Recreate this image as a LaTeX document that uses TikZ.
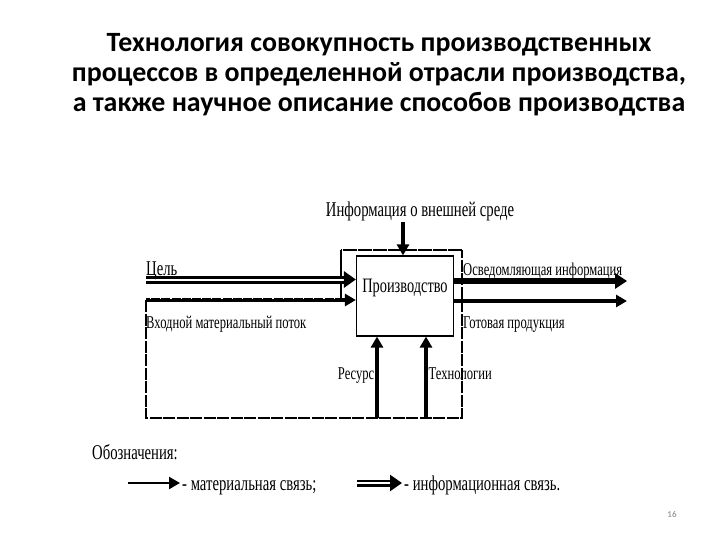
\documentclass[tikz,border=0pt]{standalone}
\usepackage{fontspec}
\setmainfont{Carlito}
\newfontfamily\cond[FakeStretch=0.70]{Liberation Serif}
\usetikzlibrary{arrows.meta}
\begin{document}
\begin{tikzpicture}[x=1pt,y=-1pt,
 lbl/.style={font=\cond\fontsize{18}{18}\selectfont, inner sep=0pt},
 biglbl/.style={font=\cond\fontsize{21}{21}\selectfont, inner sep=0pt},
 mat/.style={line width=3.4pt, -{Triangle[length=11pt,width=12pt]}},
 inf/.style={line width=3pt, double=white, double distance=2pt, -{Triangle[length=12pt,width=16pt]}},
 loopline/.style={line width=1.5pt, dash pattern=on 12pt off 1.5pt},
 prodbox/.style={draw, line width=1.2pt, minimum width=97pt, minimum height=80pt}]
\useasboundingbox (0,0) rectangle (720,540);
\node[font=\bfseries\fontsize{27.9}{30}\selectfont, align=center] (title) at (379,75) {Технология совокупность производственных\\процессов в определенной отрасли производства,\\а также научное описание способов производства};

\node[prodbox] (prod) at (405,296) {};
\node[font=\cond\fontsize{20.5}{20.5}\selectfont, inner sep=0pt] (prodlbl) at ([yshift=8pt]prod.center) {Производство};

\coordinate (c0) at (146,279.5);
\coordinate (m0) at (146,300);
\coordinate (o1) at (627,281);
\coordinate (o2) at (627,301);
\coordinate (t0) at (403,222);
\coordinate (r0) at (377,418);
\coordinate (k0) at (426,418);
\coordinate (lb) at (146,418);
\coordinate (rb) at (462,418);
\coordinate (rt) at (462,250);
\coordinate (lt) at (341,250);
\coordinate (lv) at (341,300);

\draw[loopline] (m0) -- (lb) -- (rb) -- (rt);
\draw[line width=2.2pt, dash pattern=on 14pt off 1pt] (rt) -- (lt);
\draw[line width=1.3pt] (lt) -- (lv);

\draw[inf] (c0) -- (c0 -| prod.west);
\draw[mat, line width=4pt] (m0) -- (m0 -| prod.west);
\draw[white, line width=1.2pt, dash pattern=on 1.2pt off 9pt] ([xshift=4pt,yshift=1.2pt]m0) -- ([xshift=-14pt,yshift=1.2pt]m0 -| prod.west);
\draw[mat, line width=5.5pt, -{Triangle[length=12pt,width=15pt]}] (o1 -| prod.east) -- (o1);
\draw[mat] (o2 -| prod.east) -- (o2);
\draw[mat] (t0) -- (t0 |- prod.north);
\draw[mat] (r0) -- (r0 |- prod.south);
\draw[mat] (k0) -- (k0 |- prod.south);

\node[biglbl, anchor=base west] (lc) at (146,275) {Цель};
\node[lbl, anchor=base west] (lm) at (146,328) {Входной материальный поток};
\node[lbl, anchor=base west] (lo1) at (463,275) {Осведомляющая информация};
\node[lbl, anchor=base west] (lo2) at (463,328) {Готовая продукция};
\node[biglbl, anchor=base] (lt0) at (420,217) {Информация о внешней среде};
\node[lbl, anchor=base east] (lr) at (374.5,379) {Ресурс};
\node[lbl, anchor=base west] (lk) at (428.5,379) {Технологии};

\node[biglbl, anchor=base west] (leg) at (92,459) {Обозначения:};
\coordinate (a0) at (128,483);
\coordinate (a1) at (180,483);
\coordinate (b0) at (357,483);
\coordinate (b1) at (402,483);
\draw[mat, line width=2.4pt] (a0) -- (a1);
\draw[inf, line width=2.6pt, double distance=1.8pt] (b0) -- (b1);
\node[biglbl, anchor=base west] (lm1) at (182,490) {- материальная связь;};
\node[biglbl, anchor=base west] (lm2) at (404,490) {- информационная связь.};

\node[font=\fontsize{9}{9}\selectfont, text=gray] (pg) at (672,514) {16};
\end{tikzpicture}
\end{document}
